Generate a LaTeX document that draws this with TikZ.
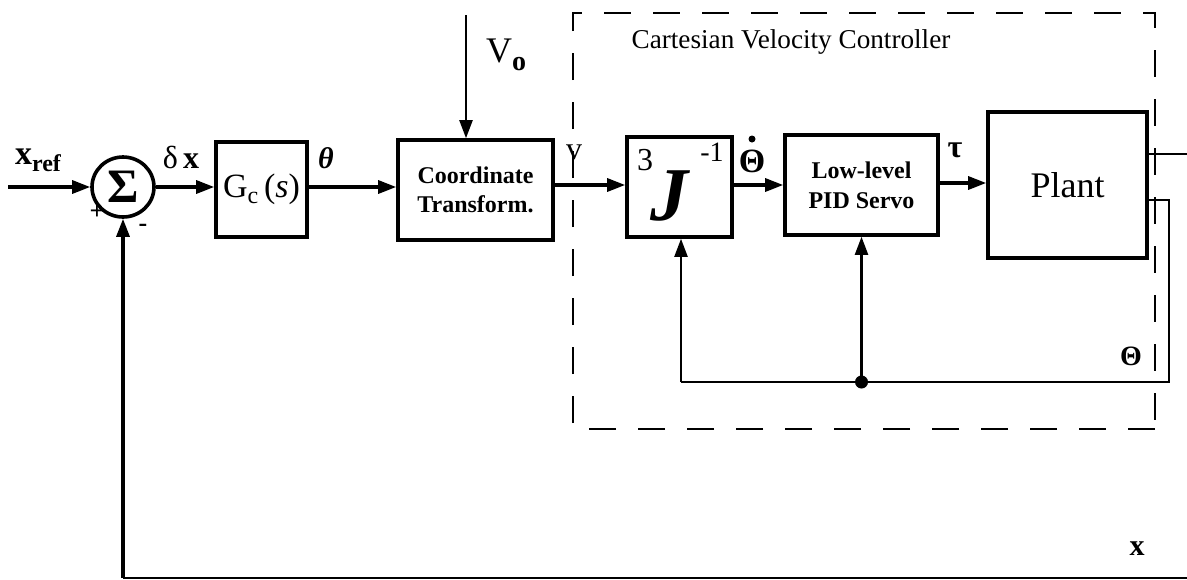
\documentclass[tikz,border=0pt]{standalone}
\usepackage{fontspec}
\setmainfont{Liberation Serif}
\usetikzlibrary{arrows.meta,shapes.geometric,fit}
\begin{document}
\begin{tikzpicture}[x=0.5pt,y=-0.5pt,
  blk/.style={draw,line width=1.8pt,inner sep=0pt},
  sig/.style={line width=1.6pt,-{Triangle[length=9pt,width=6.5pt]}},
  thinsig/.style={line width=1.1pt,-{Triangle[length=9pt,width=6.5pt]}},
  fb/.style={line width=1pt},
  lbl/.style={inner sep=0pt},
  frame/.style={line width=1pt,dash pattern=on 13.5pt off 11pt},
]
\useasboundingbox (0,0) rectangle (1187,579);

% blocks
\node[blk,ellipse,minimum width=31pt,minimum height=30pt] (sum) at (123,187) {};
\node[lbl] (sigma) at (sum.center) {\fontsize{24}{26}\selectfont\bfseries Σ};
\node[blk,fit={(216,142) (307,237)}] (gc) {};
\node[lbl] (gctext) at (gc.center) {\fontsize{17}{18}\selectfont G\raisebox{-0.35ex}{\fontsize{12}{12}\selectfont c}\,(\textit{s})};
\node[blk,fit={(398,140) (553,240)}] (coord) {};
\node[lbl,align=center,font=\fontsize{12}{14.5}\selectfont\bfseries] (coordtext) at (coord.center) {Coordinate\\Transform.};
\node[blk,fit={(627,137) (732,237)}] (jinv) {};
\node[lbl] (jthree) at (645,160) {\fontsize{16}{17}\selectfont 3};
\node[lbl] (jletter) at (669,196) {\fontsize{38}{40}\selectfont\bfseries\itshape J};
\node[lbl] (jexp) at (712,152) {\fontsize{14}{16}\selectfont -1};
\node[blk,fit={(785,135) (938,235)}] (pid) {};
\node[lbl,align=center,font=\fontsize{12}{15}\selectfont\bfseries] (pidtext) at (pid.center) {Low-level\\PID Servo};
\node[blk,fit={(988,112) (1147,258)}] (plant) {};
\node[lbl] (planttext) at (plant.center) {\fontsize{18}{20}\selectfont Plant};

% dashed controller frame
\draw[frame] (1155,429) -- (573,429) -- (573,13) -- (1155,13) -- cycle;
\node[lbl] (cvc) at (791,42) {\fontsize{13.6}{15}\selectfont Cartesian Velocity Controller};

% points
\coordinate (xin) at (8,187);
\coordinate (v0top) at (466,15);
\coordinate (xr) at (1187,154);
\coordinate (xb) at (1187,578);
\coordinate (po) at (1147,200);
\coordinate (pr) at (1169,200);
\coordinate (fbr) at (1169,382);
\coordinate (fbl) at (681,382);

% forward path
\draw[sig] (xin) -- (sum.west);
\draw[sig] (sum.east) -- (sum.east -| gc.west);
\draw[sig] (gc.east |- sum) -- (coord.west |- sum);
\draw[thinsig] (v0top) -- (v0top |- coord.north);
\draw[sig] (coord.east |- 0,185) -- (jinv.west |- 0,185);
\draw[sig] (jinv.east |- 0,185) -- (pid.west |- 0,185);
\draw[sig] (pid.east |- 0,183) -- (plant.west |- 0,183);

% outputs and feedback
\draw[fb] (plant.east |- xr) -- (xr);
\draw[fb] (po) -- (pr) -- (fbr) -- (fbl);
\draw[thinsig] (fbl) -- (jinv.south -| fbl);
\fill (pid.south |- fbl) circle (6.5);
\draw[thinsig] (pid.south |- fbl) -- (pid.south);
\draw[line width=0.8pt] (xb) -- (sum.south |- xb);
\draw[sig] (sum.south |- xb) -- (sum.south);

% labels
\node[lbl] (xref) at (38,160) {\fontsize{17}{19}\selectfont\bfseries x\raisebox{-0.45ex}{\fontsize{12}{13}\selectfont ref}};
\node[lbl] (plus) at (97,212) {\fontsize{13}{14}\selectfont\bfseries +};
\node[lbl] (minus) at (143,228) {\fontsize{13}{14}\selectfont\bfseries -};
\node[lbl] (dx) at (181,157) {\fontsize{16}{18}\selectfont δ\,\textbf{x}};
\node[lbl] (theta) at (326,158) {\fontsize{15}{17}\selectfont\bfseries\itshape θ};
\node[lbl] (vo) at (506,55) {\fontsize{18}{20}\selectfont V\raisebox{-0.45ex}{\fontsize{14}{15}\selectfont\bfseries o}};
\node[lbl] (nu) at (574,152) {\fontsize{16}{17}\selectfont v};
\node[lbl] (thd) at (752,161) {\fontsize{17}{18}\selectfont\bfseries Θ};
\fill (752,139) circle (3.5);
\node[lbl] (tau) at (955,150) {\fontsize{16}{18}\selectfont\bfseries τ};
\node[lbl] (thfb) at (1131,356) {\fontsize{14}{16}\selectfont\bfseries Θ};
\node[lbl] (xout) at (1137,549) {\fontsize{15}{17}\selectfont\bfseries x};
\end{tikzpicture}
\end{document}
